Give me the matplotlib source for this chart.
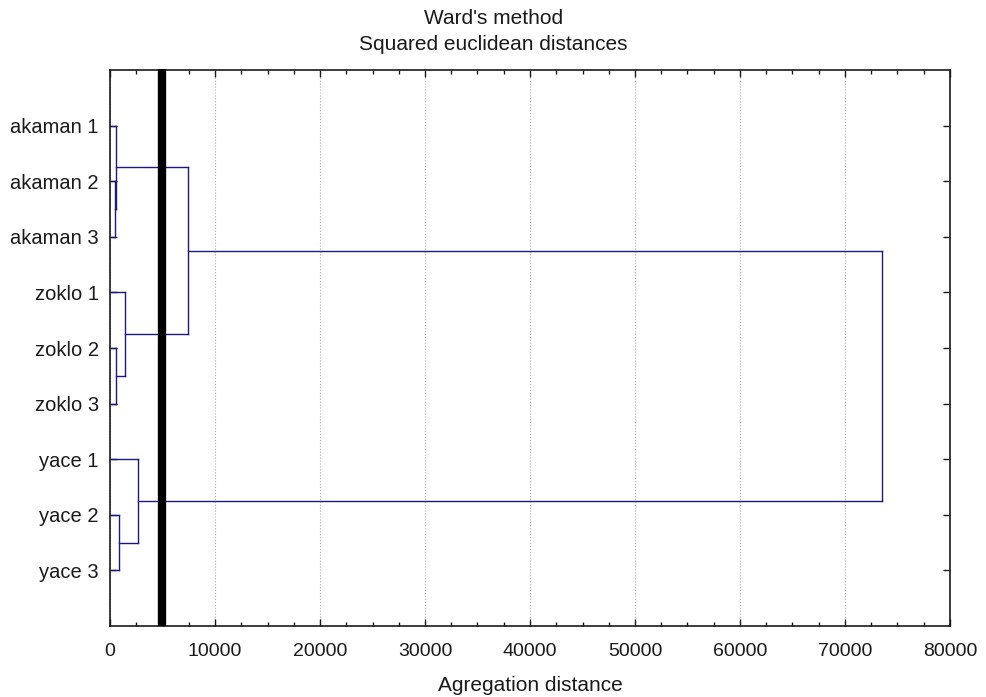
import matplotlib
matplotlib.use("Agg")
import matplotlib.pyplot as plt
from matplotlib.ticker import MultipleLocator

plt.rcParams['font.family'] = ['Liberation Sans', 'DejaVu Sans']

# leaves, top to bottom
leaves = ["akaman 1", "akaman 2", "akaman 3",
          "zoklo 1", "zoklo 2", "zoklo 3",
          "yace 1", "yace 2", "yace 3"]

# merges: (node a, node b, aggregation distance); new node ids start at len(leaves)
merge_a = [1, 4, 0, 7, 3, 6, 11, 15]
merge_b = [2, 5, 9, 8, 10, 12, 13, 14]
merge_h = [520, 550, 560, 860, 1430, 2660, 7430, 73520]

cut_level = 4950

n = len(leaves)
ypos = {i: i + 1 for i in range(n)}
height = {i: 0 for i in range(n)}

fig = plt.figure(figsize=(9.87, 6.97), dpi=100)
ax = fig.add_axes([110/987, 71/697, 840/987, 556/697])

col = '#1a1a80'
for k in range(len(merge_h)):
    a, b, h = merge_a[k], merge_b[k], merge_h[k]
    ax.plot([height[a], h], [ypos[a], ypos[a]], color=col, lw=1)
    ax.plot([height[b], h], [ypos[b], ypos[b]], color=col, lw=1)
    ax.plot([h, h], [ypos[a], ypos[b]], color=col, lw=1)
    node = n + k
    ypos[node] = (ypos[a] + ypos[b]) / 2
    height[node] = h

# cut line
ax.plot([cut_level, cut_level], [n + 1, -0.02], color='black', lw=6,
        solid_capstyle='butt', zorder=5, clip_on=False)

ax.set_xlim(0, 80000)
ax.set_ylim(n + 1, 0)
ax.set_yticks(range(1, n + 1))
ax.set_yticklabels(leaves)
ax.xaxis.set_major_locator(MultipleLocator(10000))
ax.xaxis.set_minor_locator(MultipleLocator(2500))
ax.tick_params(axis='both', which='both', direction='in', top=True, right=True,
               colors='#1a1a1a')
ax.tick_params(axis='x', which='major', length=5, width=1, pad=12, labelsize=14)
ax.tick_params(axis='y', which='major', length=5, width=1, pad=8, labelsize=14.5)
ax.tick_params(axis='x', which='minor', length=3, width=1)
ax.grid(axis='x', which='major', color='#b0b0b0', linestyle=':', lw=0.8)
for s in ax.spines.values():
    s.set_color('#1a1a1a')
    s.set_linewidth(1.2)

ax.set_xlabel("Agregation distance", fontsize=15, color='#1a1a1a', labelpad=12)
fig.text(0.5, 1 - 18/697, "Ward's method", ha='center', va='center',
         fontsize=15, color='#1a1a1a')
fig.text(0.5, 1 - 45/697, "Squared euclidean distances", ha='center', va='center',
         fontsize=15, color='#1a1a1a')

fig.savefig("out.png", dpi=100)
